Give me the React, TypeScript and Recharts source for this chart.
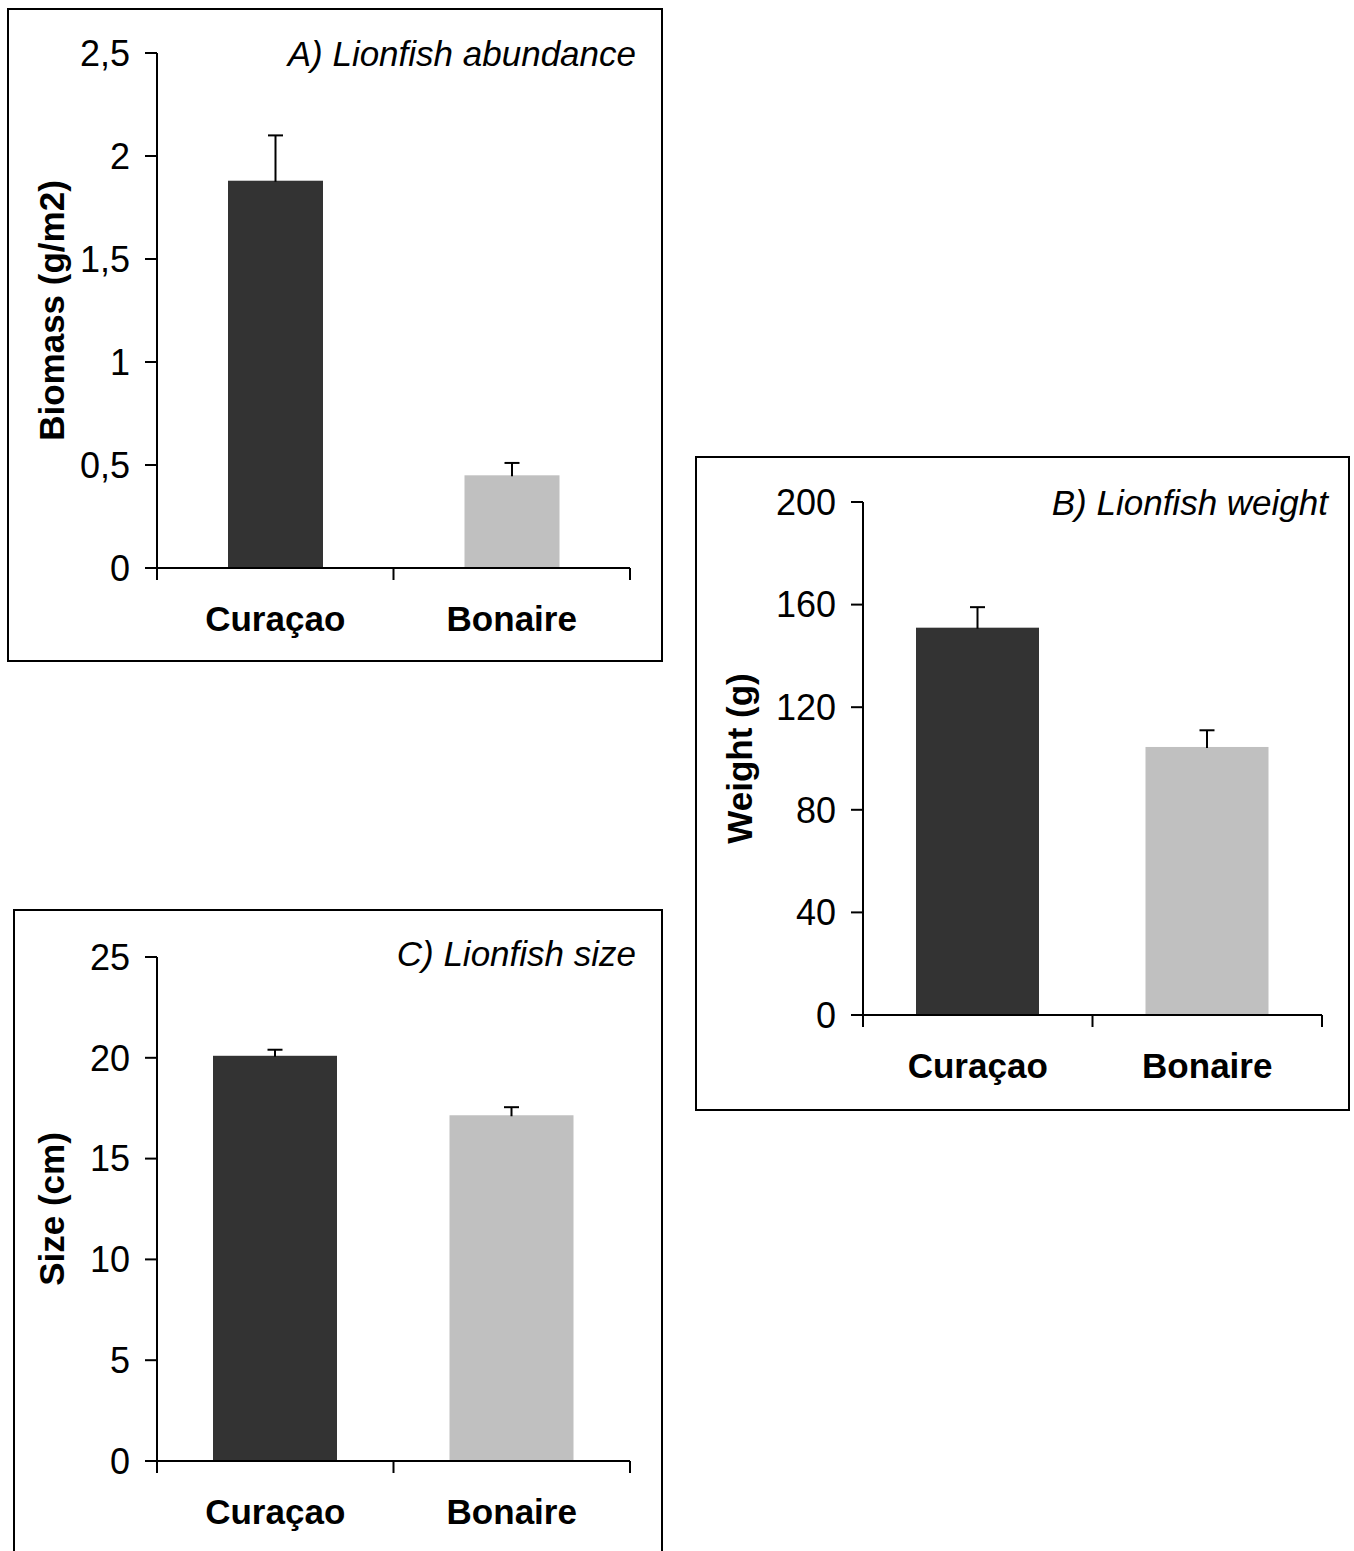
import { BarChart, Bar, XAxis, YAxis, Cell } from "recharts";

const categories = ["Curaçao", "Bonaire"];
const barColors = ["#333333", "#c0c0c0"];

const biomassMean = [1.88, 0.45];
const biomassErr = [0.22, 0.06];
const biomassTicks = [0, 0.5, 1, 1.5, 2, 2.5];

const weightMean = [151, 104.5];
const weightErr = [8, 6.5];
const weightTicks = [0, 40, 80, 120, 160, 200];

const sizeMean = [20.1, 17.15];
const sizeErr = [0.3, 0.4];
const sizeTicks = [0, 5, 10, 15, 20, 25];

const FONT = "'Liberation Sans', Arial, sans-serif";

const BarWithError = (props: any) => {
  const { x, y, width, height, fill, payload, value } = props;
  const pxPerUnit = value ? height / value : 0;
  const top = y - payload.err * pxPerUnit;
  const cx = x + width / 2;
  return (
    <g>
      <rect x={x} y={y} width={width} height={height} fill={fill} />
      <line x1={cx} y1={y + 1} x2={cx} y2={top} stroke="#000" strokeWidth={2} />
      <line x1={cx - 7.5} y1={top} x2={cx + 7.5} y2={top} stroke="#000" strokeWidth={2} />
    </g>
  );
};

// boundary ticks at whole numbers, category names at the half positions
const CategoryTick = (props: any) => {
  const { x, y, payload } = props;
  const v = payload.value;
  if (Number.isInteger(v)) {
    return <line x1={x} y1={y} x2={x} y2={y + 12} stroke="#000" strokeWidth={2} />;
  }
  return (
    <text
      x={x}
      y={y + 38}
      dy="0.71em"
      textAnchor="middle"
      fontSize={35}
      fontWeight="bold"
      fontFamily={FONT}
      fill="#000"
    >
      {categories[Math.floor(v)]}
    </text>
  );
};

type PanelProps = {
  left: number;
  top: number;
  width: number;
  height: number;
  axisWidth: number;
  margin: { top: number; right: number; bottom: number; left: number };
  means: number[];
  errs: number[];
  ticks: number[];
  barSize: number;
  title: string;
  titleX: number;
  titleY: number;
  yTitle: string;
  yTitleOffset: number;
  comma?: boolean;
};

const Panel = (p: PanelProps) => {
  const data = categories.map((name, i) => ({ name, pos: i + 0.5, value: p.means[i], err: p.errs[i] }));
  const fmt = (v: number) => (p.comma ? String(v).replace(".", ",") : String(v));
  return (
    <>
      <div
        style={{
          position: "absolute",
          left: p.left,
          top: p.top,
          width: p.width,
          height: p.height,
          border: "2px solid #000",
          boxSizing: "border-box",
        }}
      />
      <div style={{ position: "absolute", left: p.left, top: p.top }}>
        <BarChart
          width={p.width}
          height={p.height}
          data={data}
          margin={p.margin}
          style={{ fontFamily: FONT }}
        >
          <XAxis
            dataKey="pos"
            type="number"
            domain={[0, categories.length]}
            ticks={[0, 0.5, 1, 1.5, 2]}
            interval={0}
            height={60}
            tickLine={false}
            tickSize={0}
            tickMargin={0}
            tick={<CategoryTick />}
            stroke="#000"
            strokeWidth={2}
          />
          <YAxis
            width={p.axisWidth}
            domain={[p.ticks[0], p.ticks[p.ticks.length - 1]]}
            ticks={p.ticks}
            tickFormatter={fmt}
            tickSize={12}
            tickMargin={15}
            stroke="#000"
            strokeWidth={2}
            tick={{ fill: "#000", fontSize: 36 }}
            label={{
              value: p.yTitle,
              angle: -90,
              position: "insideLeft",
              offset: p.yTitleOffset,
              style: { textAnchor: "middle", fontWeight: "bold", fontSize: 35, fill: "#000" },
            }}
          />
          <Bar dataKey="value" barSize={p.barSize} isAnimationActive={false} shape={BarWithError}>
            {data.map((d, i) => (
              <Cell key={d.name} fill={barColors[i]} />
            ))}
          </Bar>
          <text
            x={p.titleX}
            y={p.titleY}
            textAnchor="end"
            fontStyle="italic"
            fontSize={35}
            fontFamily={FONT}
            fill="#000"
          >
            {p.title}
          </text>
        </BarChart>
      </div>
    </>
  );
};

export default function App() {
  return (
    <div style={{ position: "absolute", left: 0, top: 0, width: 1354, height: 1551, background: "#fff", overflow: "hidden" }}>
      <Panel
        left={7}
        top={8}
        width={656}
        height={654}
        axisWidth={150}
        margin={{ top: 45, right: 33, bottom: 34, left: 0 }}
        means={biomassMean}
        errs={biomassErr}
        ticks={biomassTicks}
        barSize={95}
        title="A) Lionfish abundance"
        titleX={629}
        titleY={58}
        yTitle="Biomass (g/m2)"
        yTitleOffset={45}
        comma
      />
      <Panel
        left={695}
        top={456}
        width={655}
        height={655}
        axisWidth={168}
        margin={{ top: 46, right: 28, bottom: 36, left: 0 }}
        means={weightMean}
        errs={weightErr}
        ticks={weightTicks}
        barSize={123}
        title="B) Lionfish weight"
        titleX={633}
        titleY={59}
        yTitle="Weight (g)"
        yTitleOffset={45}
      />
      <Panel
        left={13}
        top={909}
        width={650}
        height={660}
        axisWidth={144}
        margin={{ top: 48, right: 33, bottom: 48, left: 0 }}
        means={sizeMean}
        errs={sizeErr}
        ticks={sizeTicks}
        barSize={124}
        title="C) Lionfish size"
        titleX={623}
        titleY={57}
        yTitle="Size (cm)"
        yTitleOffset={39}
      />
    </div>
  );
}
